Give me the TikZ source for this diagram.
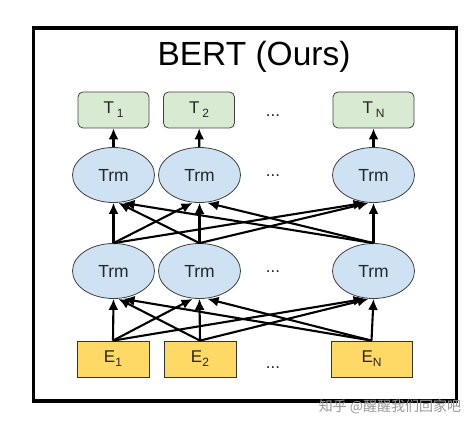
\documentclass[tikz,border=0pt]{standalone}
\usepackage{fontspec}
\setmainfont{Liberation Sans}
\newfontfamily\cjk{Noto Sans CJK SC}
\usetikzlibrary{shapes.geometric,arrows.meta}

\definecolor{outgreen}{HTML}{D9EAD3}
\definecolor{trmblue}{HTML}{CFE2F3}
\definecolor{embyellow}{HTML}{FFD966}
\definecolor{edgegray}{HTML}{404040}
\newcommand{\lowsub}[1]{\raisebox{-4pt}{\fontsize{12}{13}\selectfont #1}}

\begin{document}
\begin{tikzpicture}[x=1pt,y=1pt,>={Latex[length=11pt,width=10pt]},
    tok/.style={draw=edgegray, line width=0.8pt, minimum height=36pt, inner sep=0pt,
      font=\fontsize{17}{19}\selectfont, text=black!85},
    outbox/.style={tok, fill=outgreen, rounded corners=5pt, minimum width=71pt},
    embbox/.style={tok, fill=embyellow, draw=black!80, minimum width=72pt},
    trm/.style={ellipse, draw=edgegray, line width=0.8pt, fill=trmblue, minimum width=82pt,
      minimum height=55pt, inner sep=0pt, font=\fontsize{17.5}{19}\selectfont, text=black!85},
    dots/.style={font=\fontsize{17}{19}\selectfont, text=black!85, inner sep=0pt},
    link/.style={->, line width=2.1pt}]
      \useasboundingbox (0,0) rectangle (476,426);
      \draw[line width=3.4pt] (33.5,398) rectangle (456.5,25);
      \node[anchor=base, font=\fontsize{33.5}{38}\selectfont] (title) at (254,360) {BERT (Ours)};

      % output tokens
      \node[outbox] (t1) at (113.5,316) {T\,\lowsub{1}};
      \node[outbox] (t2) at (199,316) {T\,\lowsub{2}};
      \node[outbox, minimum width=81pt] (tN) at (373.5,316) {T\,\lowsub{N}};
      \node[dots] (tdots) at (273,310) {...};

      % transformer layers
      \node[trm] (u1) at (113.5,251) {Trm};
      \node[trm] (u2) at (199.5,251) {Trm};
      \node[trm] (uN) at (373.5,251) {Trm};
      \node[dots] (udots) at (273,250) {...};
      \node[trm] (l1) at (113.5,155) {Trm};
      \node[trm] (l2) at (199.5,155) {Trm};
      \node[trm] (lN) at (373.5,155) {Trm};
      \node[dots] (ldots) at (273,154) {...};

      % input embeddings
      \node[embbox] (e1) at (113,67) {E\lowsub{1}};
      \node[embbox] (e2) at (200,67) {E\lowsub{2}};
      \node[embbox, minimum width=81pt] (eN) at (371.5,67) {E\lowsub{N}};
      \node[dots] (edots) at (273,58) {...};

      \foreach \src/\dst/\dx in {e1/l1/0, e2/l1/5, eN/l1/10, e1/l2/-7, e2/l2/0, eN/l2/8, e1/lN/-9, e2/lN/-5, eN/lN/0}
        \draw[link] (\src.north) -- ([xshift=\dx]\dst.south);
      \foreach \src/\dst/\dx in {l1/u1/0, l2/u1/5, lN/u1/10, l1/u2/-7, l2/u2/0, lN/u2/8, l1/uN/-9, l2/uN/-5, lN/uN/0}
        \draw[link] (\src.north) -- ([xshift=\dx]\dst.south);
      \draw[link] (u1) -- (t1);
      \draw[link] (u2) -- (t2);
      \draw[link] (uN) -- (tN);

      \node[font=\cjk\fontsize{14}{16}\selectfont, text=black!40] (mark) at (390,19) {知乎 @醒醒我们回家吧};
    \end{tikzpicture}
\end{document}
